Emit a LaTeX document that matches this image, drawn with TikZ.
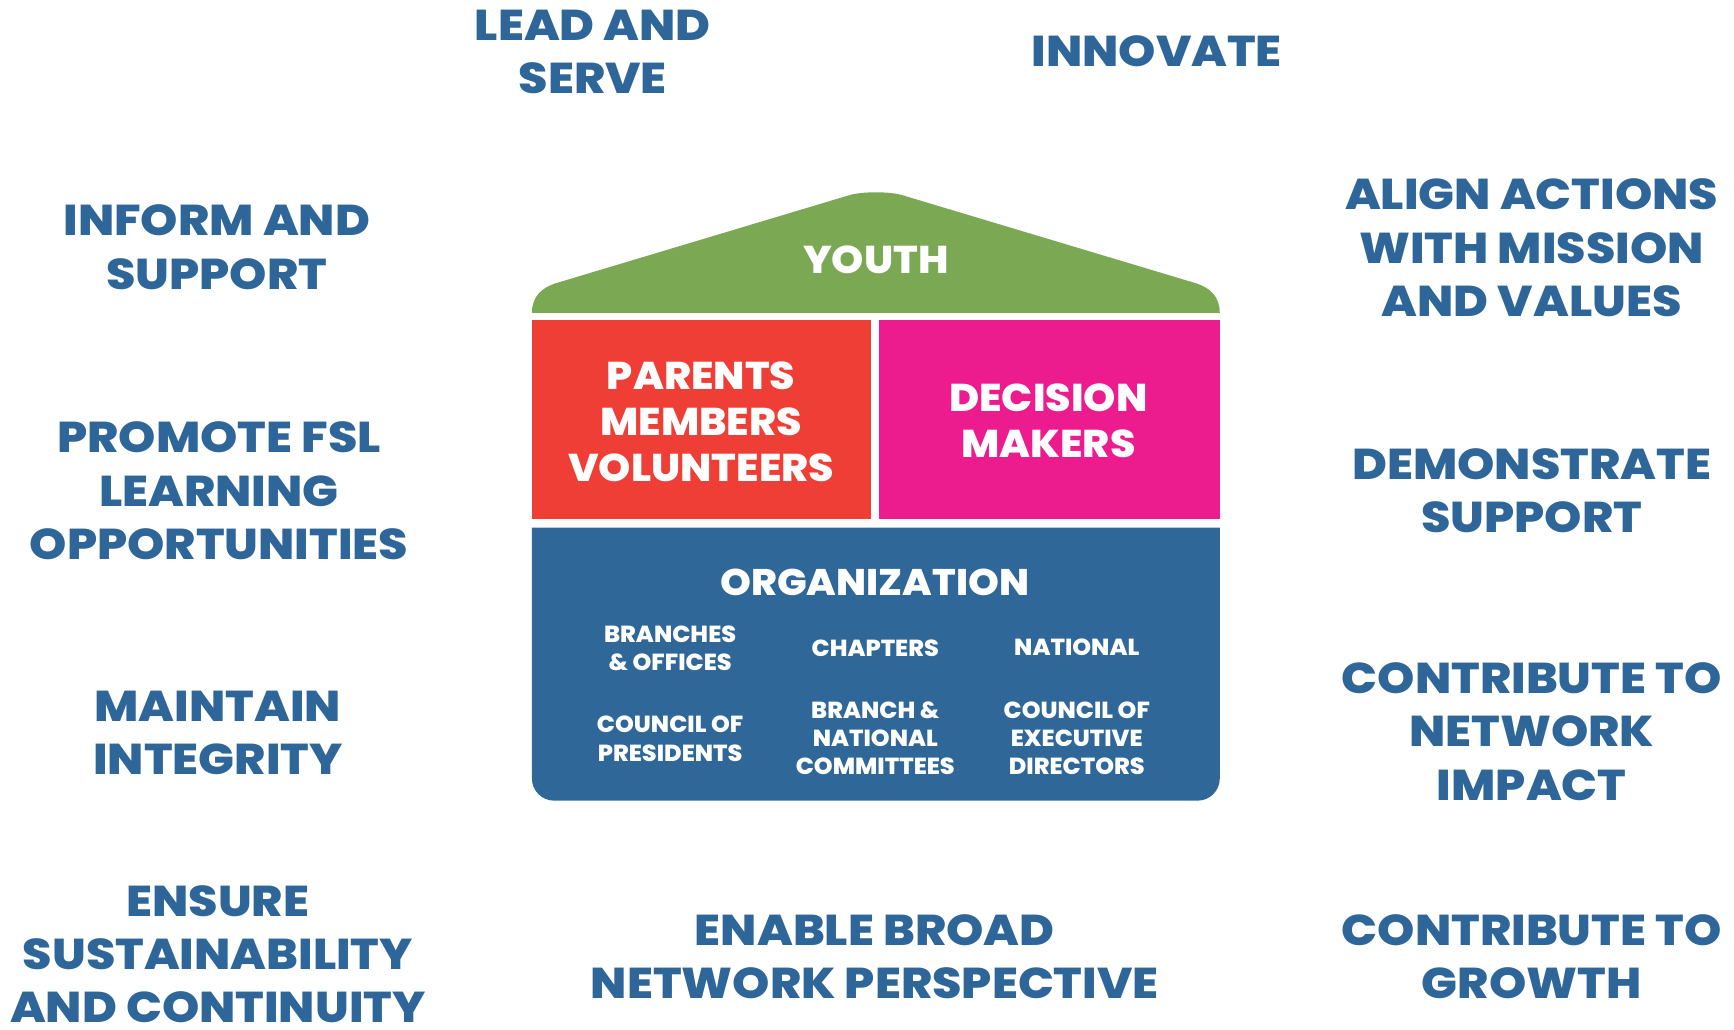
\documentclass[tikz,border=0pt]{standalone}
\usepackage{fontspec}
\setmainfont{Poppins}[BoldFont={Poppins ExtraBold}]
\newfontfamily\outerfam{Poppins ExtraBold}[FakeStretch=1.10]
\newfontfamily\bigfam{Poppins ExtraBold}[FakeStretch=1.06]
\newfontfamily\subfam{Poppins ExtraBold}[FakeStretch=1.03]
\definecolor{tblue}{RGB}{46,102,153}
\definecolor{roofgreen}{RGB}{123,168,83}
\definecolor{boxred}{RGB}{239,62,54}
\definecolor{boxpink}{RGB}{236,28,143}
\definecolor{orgblue}{RGB}{47,103,153}
\newcommand\outerfnt{\outerfam\fontsize{39}{48.2}\selectfont}
\newcommand\bigfnt{\bigfam\fontsize{35}{41.6}\selectfont}
\newcommand\orgfnt{\bigfam\fontsize{33.5}{40}\selectfont}
\newcommand\subfnt{\subfam\fontsize{21}{25.6}\selectfont}
\tikzset{
  outertxt/.style={text=tblue, font=\outerfnt, align=center, inner sep=0pt},
  bigtxt/.style={text=white, font=\bigfnt, align=center, inner sep=0pt},
  orgtxt/.style={text=white, font=\orgfnt, align=center, inner sep=0pt},
  subtxt/.style={text=white, font=\subfnt, align=center, inner sep=0pt}
}
\begin{document}
\begin{tikzpicture}[x=1pt,y=-1pt]
\useasboundingbox (0,0) rectangle (1568,930.5);
% roof
\fill[roofgreen] (481,283) .. controls (481,268) and (490,260) .. (503,256)
  -- (768,176.5) .. controls (780,173) and (804,173) .. (816,176.5)
  -- (1081,256) .. controls (1094,260) and (1103,268) .. (1103,283) -- cycle;
% boxes
\fill[boxred] (481,289.5) rectangle (788,469.5);
\fill[boxpink] (795,289.5) rectangle (1103,469.5);
\fill[orgblue] (481,477) -- (1103,477) -- (1103,704)
  .. controls (1103,715) and (1094,724) .. (1083,724) -- (501,724)
  .. controls (490,724) and (481,715) .. (481,704) -- cycle;
% inner texts
\node[bigtxt] (youth) at (792,234.7) {YOUTH};
\node[bigtxt] (pmv) at (634,381) {PARENTS\\MEMBERS\\VOLUNTEERS};
\node[bigtxt] (dm) at (948,380.7) {DECISION\\MAKERS};
\node[orgtxt] (org) at (791,526.3) {ORGANIZATION};
\node[subtxt] (bo) at (606,586) {BRANCHES\\\&~OFFICES};
\node[subtxt] (ch) at (791.5,586) {CHAPTERS};
\node[subtxt] (na) at (973.7,585.5) {NATIONAL};
\node[subtxt] (cp) at (606,668) {COUNCIL OF\\PRESIDENTS};
\node[subtxt] (bnc) at (791.5,667.5) {BRANCH \&\\NATIONAL\\COMMITTEES};
\node[subtxt] (ced) at (973.7,667.5) {COUNCIL OF\\EXECUTIVE\\DIRECTORS};
% outer texts
\node[outertxt] (lead) at (536,47) {LEAD AND\\SERVE};
\node[outertxt] (innov) at (1046,46) {INNOVATE};
\node[outertxt] (inform) at (196,223.5) {INFORM AND\\SUPPORT};
\node[outertxt] (promote) at (198,444) {PROMOTE FSL\\LEARNING\\OPPORTUNITIES};
\node[outertxt] (maintain) at (197,662.5) {MAINTAIN\\INTEGRITY};
\node[outertxt] (ensure) at (197,863) {ENSURE\\SUSTAINABILITY\\AND CONTINUITY};
\node[outertxt] (enable) at (791,865) {ENABLE BROAD\\NETWORK PERSPECTIVE};
\node[outertxt] (align) at (1385,224) {ALIGN ACTIONS\\WITH MISSION\\AND VALUES};
\node[outertxt] (demo) at (1385,444) {DEMONSTRATE\\SUPPORT};
\node[outertxt] (cnet) at (1385,661.5) {CONTRIBUTE TO\\NETWORK\\IMPACT};
\node[outertxt] (cgrow) at (1385,865) {CONTRIBUTE TO\\GROWTH};
\end{tikzpicture}
\end{document}
